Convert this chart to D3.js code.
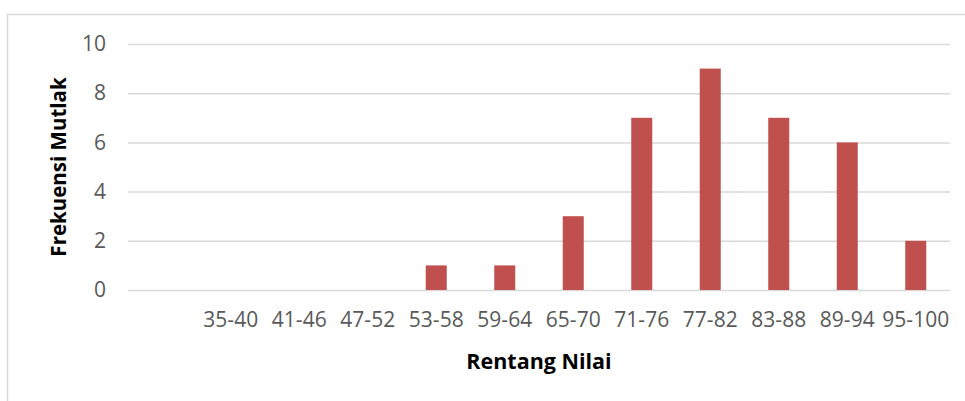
<!DOCTYPE html>
<html><head><meta charset="utf-8">
<script src="https://cdn.jsdelivr.net/npm/d3@7"></script>
<style>body{margin:0;background:#fff;} svg{display:block;}</style>
</head><body>
<svg id="c" width="965" height="401"></svg>
<script>
const categories = ["", "35-40", "41-46", "47-52", "53-58", "59-64", "65-70", "71-76", "77-82", "83-88", "89-94", "95-100"];
const values = [null, 0, 0, 0, 1, 1, 3, 7, 9, 7, 6, 2];
const yTicks = [0, 2, 4, 6, 8, 10];
const xTitle = "Rentang Nilai";
const yTitle = "Frekuensi Mutlak";

const svg = d3.select("#c");
const font = "'Open Sans', sans-serif";
const mLeft = 128, mRight = 950, mTop = 44, mBottom = 290;

// frame
svg.append("path").attr("d", "M7.5,401 V14.5 H965").attr("fill", "none")
  .attr("stroke", "#d9d9d9").attr("stroke-width", 1.5);

const x = d3.scaleBand().domain(categories.map((c, i) => i)).range([mLeft, mRight]).padding(0);
const y = d3.scaleLinear().domain([0, 10]).range([mBottom, mTop]);

// gridlines + y labels via axis
const yAxis = svg.append("g").attr("transform", `translate(${mLeft},0)`)
  .call(d3.axisLeft(y).tickValues(yTicks).tickSize(-(mRight - mLeft)).tickPadding(22));
yAxis.select(".domain").remove();
yAxis.selectAll(".tick line").attr("stroke", "#d9d9d9").attr("stroke-width", 1.5);
yAxis.selectAll(".tick text").attr("fill", "#595959").style("font-family", font).style("font-size", "21px");

// bars
const barW = 21;
svg.append("g").selectAll("rect").data(values.map((v, i) => ({v, i})).filter(d => d.v != null && d.v > 0))
  .enter().append("rect")
  .attr("x", d => x(d.i) + x.bandwidth() / 2 - barW / 2)
  .attr("width", barW)
  .attr("y", d => y(d.v))
  .attr("height", d => y(0) - y(d.v))
  .attr("fill", "#c0504d");

// x axis labels
const xAxis = svg.append("g").attr("transform", `translate(0,${mBottom})`)
  .call(d3.axisBottom(x).tickSize(0).tickPadding(22).tickFormat(i => categories[i]));
xAxis.select(".domain").remove();
xAxis.selectAll(".tick text").attr("fill", "#595959").style("font-family", font).style("font-size", "21px");

// titles
svg.append("text").attr("x", 539).attr("y", 369).attr("text-anchor", "middle")
  .style("font-family", font).style("font-weight", "bold").style("font-size", "21.5px")
  .attr("fill", "#000").text(xTitle);
svg.append("text").attr("transform", "translate(66,167) rotate(-90)").attr("text-anchor", "middle")
  .style("font-family", font).style("font-weight", "bold").style("font-size", "20.5px")
  .attr("fill", "#000").text(yTitle);
</script>
</body></html>
